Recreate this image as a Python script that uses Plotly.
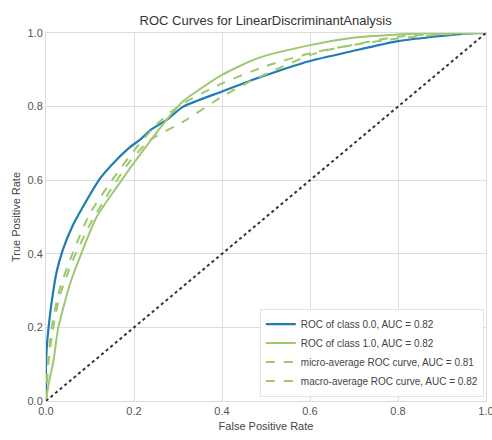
import plotly.graph_objects as go

# ---- data ----
class0_fpr = [0, 0, 0.002, 0.005, 0.013, 0.024, 0.038, 0.06, 0.085, 0.123, 0.16, 0.191, 0.214, 0.236,
              0.274, 0.312, 0.4, 0.48, 0.6, 0.69, 0.8, 0.9, 0.964, 1.0]
class0_tpr = [0, 0.1, 0.15, 0.19, 0.27, 0.35, 0.41, 0.475, 0.53, 0.605, 0.655, 0.69, 0.71, 0.735,
              0.764, 0.80, 0.841, 0.877, 0.924, 0.949, 0.978, 0.992, 0.999, 1.0]

class1_fpr = [0, 0.005, 0.017, 0.028, 0.055, 0.08, 0.115, 0.16, 0.214, 0.274, 0.312, 0.4, 0.48,
              0.6, 0.69, 0.8, 0.9, 1.0]
class1_tpr = [0, 0.04, 0.11, 0.20, 0.32, 0.40, 0.50, 0.58, 0.67, 0.764, 0.815, 0.886, 0.931,
              0.967, 0.986, 0.996, 1.0, 1.0]

micro_fpr = [0, 0.005, 0.015, 0.03, 0.06, 0.1, 0.145, 0.19, 0.236, 0.312, 0.4, 0.47, 0.6, 0.645,
             0.8, 0.9, 1.0]
micro_tpr = [0, 0.10, 0.19, 0.28, 0.38, 0.48, 0.57, 0.65, 0.709, 0.759, 0.827, 0.872, 0.94, 0.955,
             0.99, 0.998, 1.0]

macro_fpr = [0, 0.005, 0.013, 0.03, 0.06, 0.1, 0.15, 0.2, 0.25, 0.3, 0.4, 0.5, 0.6, 0.7, 0.8, 0.9, 1.0]
macro_tpr = [0, 0.11, 0.20, 0.30, 0.40, 0.51, 0.60, 0.68, 0.75, 0.80, 0.863, 0.91, 0.945, 0.968,
             0.985, 0.996, 1.0]

labels = ["ROC of class 0.0, AUC = 0.82", "ROC of class 1.0, AUC = 0.82",
          "micro-average ROC curve, AUC = 0.81", "macro-average ROC curve, AUC = 0.82"]
diag = [0, 1]
ticks = [0, 0.2, 0.4, 0.6, 0.8, 1.0]
tick_text = ["0.0", "0.2", "0.4", "0.6", "0.8", "1.0"]

BLUE = "#1f7bb2"
GREEN = "#9dc870"
FONT = "Liberation Sans Narrow, Liberation Sans, Arial, sans-serif"

fig = go.Figure()
fig.add_trace(go.Scatter(x=class0_fpr, y=class0_tpr, mode="lines", name=labels[0],
                         line=dict(color=BLUE, width=2.2, shape="spline", smoothing=0.6)))
fig.add_trace(go.Scatter(x=class1_fpr, y=class1_tpr, mode="lines", name=labels[1],
                         line=dict(color=GREEN, width=2, shape="spline", smoothing=0.6)))
fig.add_trace(go.Scatter(x=micro_fpr, y=micro_tpr, mode="lines", name=labels[2],
                         line=dict(color=GREEN, width=2, dash="dash", shape="spline", smoothing=0.6)))
fig.add_trace(go.Scatter(x=macro_fpr, y=macro_tpr, mode="lines", name=labels[3],
                         line=dict(color=GREEN, width=2, dash="dash", shape="spline", smoothing=0.6)))
fig.add_trace(go.Scatter(x=diag, y=diag, mode="lines", showlegend=False,
                         line=dict(color="#333333", width=2, dash="dot")))

axis_common = dict(range=[0, 1], tickvals=ticks, ticktext=tick_text, showgrid=True,
                   gridcolor="#dcdcdc", gridwidth=1, zeroline=False, showline=True,
                   linecolor="#dcdcdc", linewidth=1, mirror=True, ticks="",
                   ticklabeloverflow="allow",
                   tickfont=dict(size=11, color="#555555", family=FONT),
                   title_font=dict(size=11, color="#444444", family=FONT))

fig.update_layout(
    width=492, height=440,
    margin=dict(l=46, r=6, t=33, b=39, autoexpand=False),
    paper_bgcolor="white", plot_bgcolor="white",
    title=dict(text="ROC Curves for LinearDiscriminantAnalysis", x=0.54, xanchor="center",
               y=1 - 20 / 440, yanchor="middle",
               font=dict(size=13, color="#333333", family=FONT)),
    xaxis=dict(title=dict(text="False Positive Rate", standoff=6), automargin=False, **axis_common),
    yaxis=dict(title=dict(text="True Positive Rate", standoff=4), automargin=False, **axis_common),
    legend=dict(x=0.995, y=0.012, xanchor="right", yanchor="bottom",
                bgcolor="rgba(255,255,255,0.9)", bordercolor="#e4e4e4", borderwidth=1,
                font=dict(size=10, color="#444444", family=FONT),
                itemwidth=30, tracegroupgap=0),
    showlegend=True,
)

fig.write_html("out.html")
